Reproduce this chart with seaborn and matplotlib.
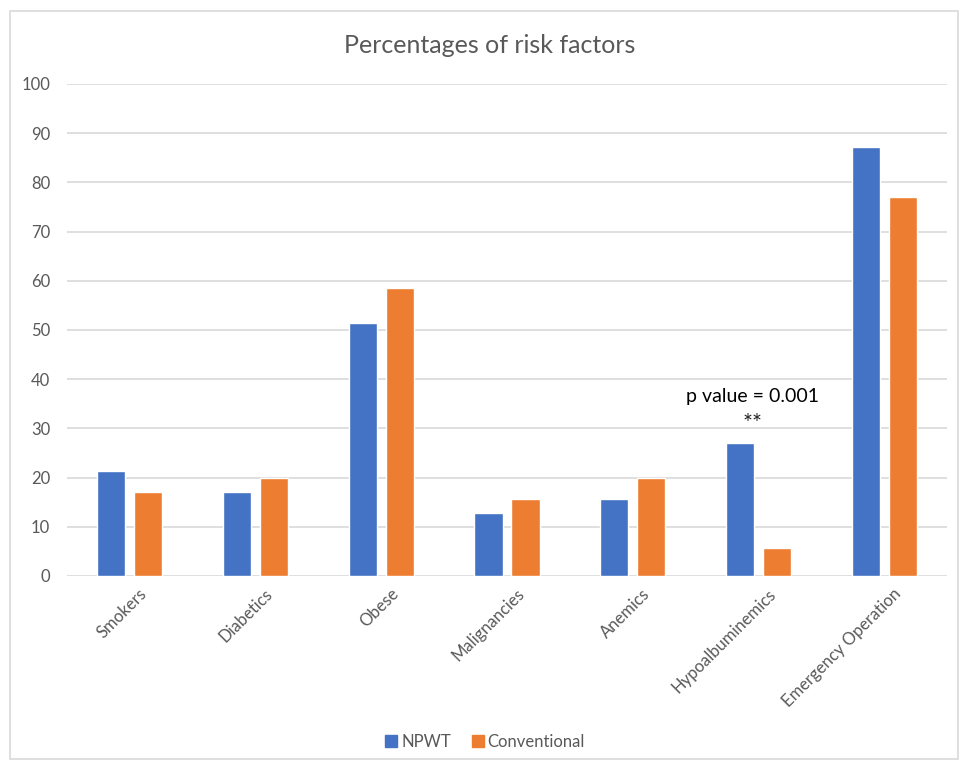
import matplotlib
matplotlib.use("Agg")
import matplotlib.pyplot as plt
import matplotlib.transforms as mtransforms
import seaborn as sns
import pandas as pd
from matplotlib.patches import Rectangle
from matplotlib.lines import Line2D

# Chart data
categories = ["Smokers", "Diabetics", "Obese", "Malignancies", "Anemics",
              "Hypoalbuminemics", "Emergency Operation"]
npwt = [21.4, 17.1, 51.4, 12.9, 15.7, 27.1, 87.1]
conventional = [17.1, 20.0, 58.6, 15.7, 20.0, 5.7, 77.1]
groups = ["NPWT", "Conventional"]
y_ticks = [0, 10, 20, 30, 40, 50, 60, 70, 80, 90, 100]

colors = {"NPWT": "#4472C4", "Conventional": "#ED7D31"}
text_grey = "#595959"

# Long format table for seaborn
df = pd.DataFrame({
    "Factor": categories * 2,
    "Group": ["NPWT"] * len(categories) + ["Conventional"] * len(categories),
    "Percent": npwt + conventional,
})

sns.set_style("white")
plt.rcParams["font.family"] = ["Lato", "DejaVu Sans"]

fig = plt.figure(figsize=(9.68, 7.61), dpi=100)
ax = fig.add_axes([67 / 968, 1 - 576 / 761, 880 / 968, 492 / 761])

sns.barplot(data=df, x="Factor", y="Percent", hue="Group", hue_order=groups,
            palette=colors, width=0.59, gap=0.24, saturation=1, ax=ax,
            legend=False, zorder=3)

ax.set_ylim(0, 100)
ax.set_yticks(y_ticks)
ax.set_xlim(-0.5, len(categories) - 0.5)
ax.grid(axis="y", color="#d9d9d9", linewidth=1.2, zorder=0)
ax.set_axisbelow(True)
for s in ax.spines.values():
    s.set_visible(False)
ax.tick_params(axis="both", length=0, colors=text_grey, labelsize=12)
ax.tick_params(axis="y", pad=12)
ax.tick_params(axis="x", pad=7)
# rotated category labels, nudged a little to the right like the original
shift = mtransforms.ScaledTranslation(9 / 100, 0, fig.dpi_scale_trans)
for lab in ax.get_xticklabels():
    lab.set_rotation(45)
    lab.set_ha("right")
    lab.set_rotation_mode("anchor")
    lab.set_transform(lab.get_transform() + shift)
ax.set_xlabel("")
ax.set_ylabel("")

ax.set_title("Percentages of risk factors", fontsize=18, color=text_grey,
             pad=22, x=0.48)

# significance note above Hypoalbuminemics
hyp = categories.index("Hypoalbuminemics")
ax.text(hyp - 0.05, 36.5, "p value = 0.001", ha="center", va="center",
        fontsize=14, color="black")
ax.text(hyp - 0.05, 31.0, "**", ha="center", va="center", fontsize=17,
        color="#222222")

# legend at the bottom
handles = [Line2D([0], [0], marker="s", linestyle="", markersize=8,
                  markerfacecolor=colors[g], markeredgecolor=colors[g])
           for g in groups]
fig.legend(handles, groups, loc="center", bbox_to_anchor=(0.5, 1 - 742 / 761),
           ncol=2, frameon=False, fontsize=12, labelcolor=text_grey,
           handletextpad=0.1, columnspacing=1.1, handlelength=1.0)

# outer chart border
fig.patches.append(Rectangle((10 / 968, 2 / 761), 948 / 968, 748 / 761,
                             transform=fig.transFigure, fill=False,
                             edgecolor="#d9d9d9", linewidth=1.2))

fig.savefig("out.png", dpi=100, facecolor="white")
